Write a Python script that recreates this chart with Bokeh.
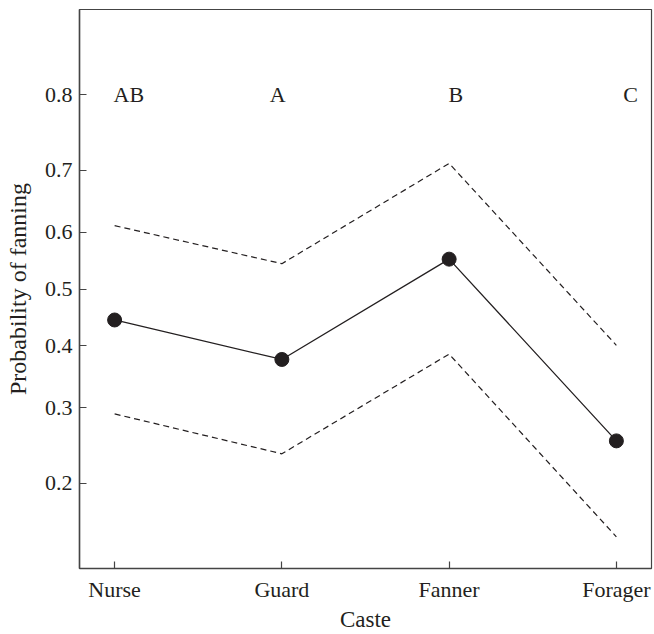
import numpy as np
from bokeh.plotting import figure
from bokeh.models import ColumnDataSource, FixedTicker, CustomJSTickFormatter, Range1d
from bokeh.core.properties import value
from bokeh.embed import file_html
from bokeh.resources import INLINE

# ---- data (probabilities) ----
castes = ["Nurse", "Guard", "Fanner", "Forager"]
mean_p = [0.445, 0.377, 0.553, 0.253]
upper_p = [0.611, 0.545, 0.710, 0.401]
lower_p = [0.291, 0.236, 0.386, 0.146]
letters = ["AB", "A", "B", "C"]
letter_p = 0.8
y_tick_p = [0.2, 0.3, 0.4, 0.5, 0.6, 0.7, 0.8]

# label horizontal nudges (category units)
letter_dx = [0.085, -0.025, 0.04, 0.085]


def logit(p):
    p = np.asarray(p, dtype=float)
    return np.log(p / (1 - p))


x = list(range(len(castes)))
FONT = "Liberation Serif"
INK = "#231f20"

p = figure(width=654, height=634, output_backend="svg", toolbar_location=None,
           x_range=Range1d(-0.21, 3.21),
           y_range=Range1d(float(logit(0.12)), float(logit(0.88))),
           min_border_left=79, min_border_right=3, min_border_top=9, min_border_bottom=61)

src = ColumnDataSource(dict(x=x, m=logit(mean_p), u=logit(upper_p), l=logit(lower_p)))

p.line("x", "u", source=src, line_color=INK, line_width=1.2, line_dash="6 4")
p.line("x", "l", source=src, line_color=INK, line_width=1.2, line_dash="6 4")
p.line("x", "m", source=src, line_color=INK, line_width=1.3)
p.scatter("x", "m", source=src, size=14, fill_color=INK, line_color=INK, marker="circle")

tsrc = ColumnDataSource(dict(x=[xi + d for xi, d in zip(x, letter_dx)],
                             y=[float(logit(letter_p))] * len(letters), t=letters))
p.text("x", "y", text="t", source=tsrc, text_align="center", text_baseline="middle",
       text_font=value(FONT), text_font_size="22px", text_color=INK)

# axes
p.xaxis.ticker = FixedTicker(ticks=x)
p.xaxis.major_label_overrides = {i: c for i, c in enumerate(castes)}
p.yaxis.ticker = FixedTicker(ticks=[float(v) for v in logit(y_tick_p)])
p.yaxis.formatter = CustomJSTickFormatter(code="return (1/(1+Math.exp(-tick))).toFixed(1);")

p.xaxis.axis_label = "Caste"
p.yaxis.axis_label = "Probability of fanning"

for ax in (p.xaxis, p.yaxis):
    ax.major_tick_in = 7
    ax.major_tick_out = 0
    ax.minor_tick_line_color = None
    ax.axis_line_color = "#444444"
    ax.axis_line_width = 1.5
    ax.major_tick_line_color = "#444444"
    ax.major_tick_line_width = 1.2
    ax.major_label_text_font = FONT
    ax.major_label_text_font_size = "22px"
    ax.major_label_text_color = INK
    ax.axis_label_text_font = FONT
    ax.axis_label_text_font_size = "23px"
    ax.axis_label_text_font_style = "normal"
    ax.axis_label_text_color = INK

p.yaxis.axis_label_text_font_size = "24px"
p.xaxis.major_label_standoff = 8
p.yaxis.major_label_standoff = 7
p.xaxis.axis_label_standoff = 2
p.yaxis.axis_label_standoff = 11

p.xgrid.grid_line_color = None
p.ygrid.grid_line_color = None
p.outline_line_color = "#444444"
p.outline_line_width = 1.2
p.background_fill_color = "white"
p.border_fill_color = "white"

open("out.html", "w").write(file_html(p, INLINE))
